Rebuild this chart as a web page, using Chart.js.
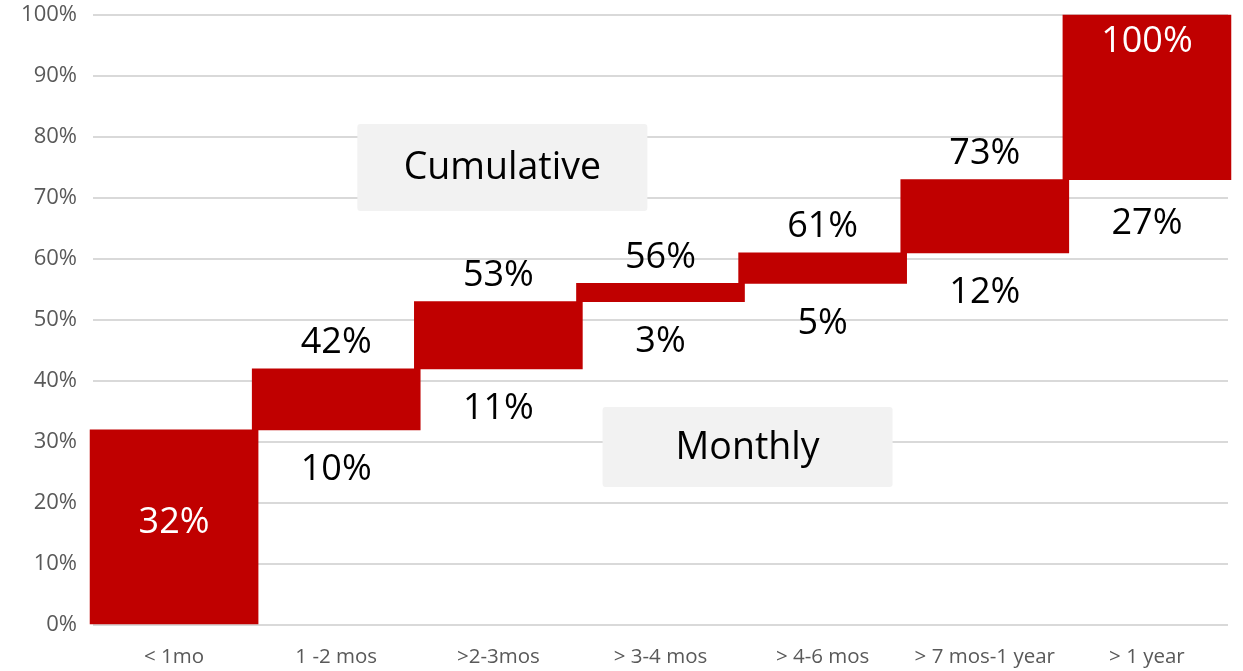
<!DOCTYPE html>
<html>
<head>
<meta charset="utf-8">
<script src="https://cdn.jsdelivr.net/npm/chart.js@4/dist/chart.umd.min.js"></script>
<style>
  html, body { margin: 0; padding: 0; background: #fff; }
  canvas { display: block; }
</style>
</head>
<body>
<canvas id="waterfall" width="1243" height="671"></canvas>
<script>
// data
const categories = ["< 1mo", "1 -2 mos", ">2-3mos", "> 3-4 mos", "> 4-6 mos", "> 7 mos-1 year", "> 1 year"];
const monthly = [32, 10, 11, 3, 5, 12, 27];
const cumulative = [32, 42, 53, 56, 61, 73, 100];
const yTicks = [0, 10, 20, 30, 40, 50, 60, 70, 80, 90, 100];

// each bar floats from previous total to new total
const ranges = cumulative.map((c, i) => [c - monthly[i], c]);

const RED = "#C00000";
const FONT = "'Open Sans', 'Noto Sans', sans-serif";

// labels on/under the bars + the two caption boxes
const waterfallLabels = {
  id: "waterfallLabels",
  afterDatasetsDraw(chart) {
    const { ctx, scales: { x, y } } = chart;
    const meta = chart.getDatasetMeta(0);
    ctx.save();
    ctx.textAlign = "center";
    ctx.textBaseline = "middle";
    ctx.font = "36px " + FONT;
    meta.data.forEach((bar, i) => {
      const top = y.getPixelForValue(cumulative[i]);
      const bottom = y.getPixelForValue(cumulative[i] - monthly[i]);
      if (i === 0) {
        ctx.fillStyle = "#fff";
        ctx.fillText(cumulative[i] + "%", bar.x, (top + bottom) / 2 - 5);
      } else if (i === meta.data.length - 1) {
        ctx.fillStyle = "#fff";
        ctx.fillText(cumulative[i] + "%", bar.x, top + 27);
        ctx.fillStyle = "#000";
        ctx.fillText(monthly[i] + "%", bar.x, bottom + 44);
      } else {
        ctx.fillStyle = "#000";
        ctx.fillText(cumulative[i] + "%", bar.x, top - 26);
        ctx.fillText(monthly[i] + "%", bar.x, bottom + 40);
      }
    });

    const box = (text, cx, cy, w, h) => {
      ctx.fillStyle = "#f2f2f2";
      ctx.beginPath();
      ctx.roundRect(cx - w / 2, cy - h / 2, w, h, 3);
      ctx.fill();
      ctx.fillStyle = "#000";
      ctx.font = "37.5px " + FONT;
      ctx.fillText(text, cx, cy + 1);
    };
    box("Cumulative", x.getPixelForValue(2) + 4, y.getPixelForValue(75), 290, 87);
    box("Monthly", x.getPixelForValue(3.5) + 6, y.getPixelForValue(29.2), 290, 80);
    ctx.restore();
  }
};

new Chart(document.getElementById("waterfall"), {
  type: "bar",
  data: {
    labels: categories,
    datasets: [{
      data: ranges,
      backgroundColor: RED,
      borderWidth: 0,
      borderSkipped: false,
      barThickness: 168,
      clip: false
    }]
  },
  options: {
    responsive: false,
    animation: false,
    layout: { padding: { top: 15, right: 15, left: 0, bottom: 0 } },
    plugins: { legend: { display: false }, tooltip: { enabled: false } },
    scales: {
      x: {
        grid: { display: false, drawTicks: false },
        border: { display: false },
        ticks: { color: "#595959", font: { family: FONT, size: 20.5 }, padding: 20, maxRotation: 0, autoSkip: false },
        afterFit: s => { s.height = 46; }
      },
      y: {
        min: 0,
        max: 100,
        afterBuildTicks: s => { s.ticks = yTicks.map(v => ({ value: v })); },
        grid: { color: "#d9d9d9", lineWidth: 2, drawTicks: false },
        border: { display: false },
        ticks: {
          color: "#595959",
          font: { family: FONT, size: 22 },
          padding: 16,
          callback: v => v + "%"
        },
        afterFit: s => { s.width = 93; s.paddingTop = 0; s.paddingBottom = 0; }
      }
    }
  },
  plugins: [waterfallLabels]
});
</script>
</body>
</html>
